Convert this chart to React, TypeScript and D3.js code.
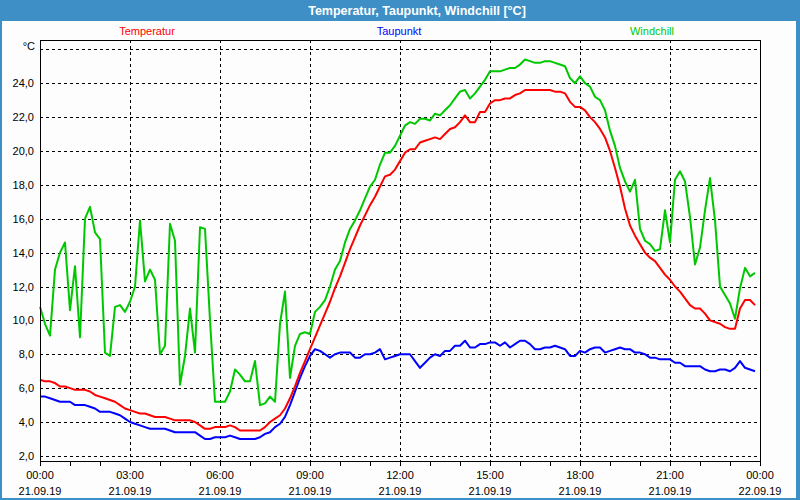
import * as d3 from "d3";

// 10-minute readings, 21.09.19 00:00 .. 23:50
const stepMinutes = 10;

const temperatur = [
  6.5, 6.4, 6.4, 6.3, 6.1, 6.1, 6.0, 5.9, 5.9, 5.9,
  5.8, 5.6, 5.5, 5.4, 5.3, 5.2, 5.0, 4.8, 4.7, 4.6,
  4.5, 4.5, 4.4, 4.3, 4.3, 4.3, 4.2, 4.1, 4.1, 4.1,
  4.1, 4.0, 3.8, 3.6, 3.6, 3.7, 3.7, 3.7, 3.8, 3.7,
  3.5, 3.5, 3.5, 3.5, 3.5, 3.7, 4.0, 4.2, 4.4, 4.8,
  5.4, 6.1, 6.9, 7.6, 8.3, 9.0, 9.7, 10.4, 11.1, 11.9,
  12.6, 13.4, 14.2, 14.9, 15.6, 16.2, 16.8, 17.3, 17.9, 18.5,
  18.6, 18.9, 19.4, 19.9, 20.1, 20.1, 20.5, 20.6, 20.7, 20.8,
  20.7, 21.0, 21.3, 21.4, 21.7, 22.1, 21.7, 21.7, 22.3, 22.3,
  22.8, 23.0, 23.0, 23.1, 23.1, 23.3, 23.4, 23.6, 23.6, 23.6,
  23.6, 23.6, 23.6, 23.5, 23.5, 23.4, 22.9, 22.6, 22.6, 22.4,
  22.0, 21.7, 21.3, 20.8, 20.0, 19.0, 17.9, 16.6, 15.6, 15.0,
  14.5, 14.0, 13.7, 13.5, 13.1, 12.7, 12.4, 12.0, 11.7, 11.3,
  10.9, 10.7, 10.7, 10.4, 10.0, 9.9, 9.8, 9.6, 9.5, 9.5,
  10.7, 11.2, 11.2, 10.9,
];

const taupunkt = [
  5.5, 5.5, 5.4, 5.3, 5.2, 5.2, 5.2, 5.0, 5.0, 5.0,
  4.9, 4.8, 4.6, 4.6, 4.6, 4.5, 4.4, 4.2, 4.0, 3.9,
  3.8, 3.7, 3.6, 3.6, 3.6, 3.6, 3.5, 3.4, 3.4, 3.4,
  3.4, 3.4, 3.2, 3.0, 3.0, 3.1, 3.1, 3.1, 3.2, 3.1,
  3.0, 3.0, 3.0, 3.0, 3.1, 3.3, 3.4, 3.7, 3.9, 4.3,
  5.0, 5.8, 6.6, 7.3, 7.9, 8.3, 8.2, 8.0, 7.8, 8.0,
  8.1, 8.1, 8.1, 7.8, 7.8, 8.0, 8.0, 8.1, 8.3, 7.7,
  7.8, 7.9, 8.0, 8.0, 8.0, 7.6, 7.2, 7.5, 7.8, 8.0,
  7.9, 8.2, 8.2, 8.5, 8.5, 8.8, 8.4, 8.4, 8.6, 8.6,
  8.7, 8.7, 8.5, 8.7, 8.4, 8.6, 8.8, 8.8, 8.6, 8.3,
  8.3, 8.4, 8.4, 8.5, 8.4, 8.3, 7.9, 7.9, 8.2, 8.1,
  8.3, 8.4, 8.4, 8.1, 8.2, 8.3, 8.4, 8.3, 8.3, 8.1,
  8.1, 8.0, 7.8, 7.8, 7.7, 7.7, 7.7, 7.5, 7.5, 7.3,
  7.3, 7.3, 7.3, 7.1, 7.0, 7.0, 7.1, 7.1, 7.0, 7.2,
  7.6, 7.2, 7.1, 7.0,
];

const windchill = [
  10.8, 9.8, 9.1, 13.0, 14.0, 14.6, 10.6, 13.2, 9.0, 16.0,
  16.7, 15.2, 14.8, 8.1, 7.9, 10.8, 10.9, 10.5, 11.1, 12.0,
  15.9, 12.3, 13.0, 12.4, 8.0, 8.5, 15.7, 14.7, 6.2, 7.9,
  10.7, 8.1, 15.5, 15.4, 10.0, 5.2, 5.2, 5.2, 5.8, 7.1,
  6.8, 6.4, 6.4, 7.6, 5.0, 5.1, 5.5, 5.2, 9.8, 11.7,
  6.6, 8.5, 9.2, 9.3, 9.2, 10.5, 10.8, 11.2, 12.0, 13.0,
  13.5, 14.6, 15.4, 15.9, 16.5, 17.2, 17.9, 18.3, 19.2, 19.9,
  19.9, 20.3, 20.9, 21.5, 21.7, 21.6, 21.9, 21.9, 21.8, 22.2,
  22.1, 22.4, 22.7, 23.1, 23.5, 23.6, 23.1, 23.4, 23.8, 24.2,
  24.7, 24.7, 24.7, 24.8, 24.9, 24.9, 25.1, 25.4, 25.3, 25.2,
  25.2, 25.3, 25.3, 25.2, 25.1, 25.0, 24.3, 24.0, 24.4, 24.0,
  23.8, 23.2, 23.0, 22.4, 21.2, 20.3, 19.0, 18.2, 17.6, 18.3,
  15.4, 14.7, 14.5, 14.1, 14.2, 16.5, 14.6, 18.3, 18.8, 18.2,
  16.1, 13.3, 14.3, 16.5, 18.4, 15.9, 12.0, 11.5, 11.0, 10.1,
  11.9, 13.1, 12.6, 12.8,
];

const yTicks = [2, 4, 6, 8, 10, 12, 14, 16, 18, 20, 22, 24];
const yUnitTick = 26;
const xTickHours = [0, 3, 6, 9, 12, 15, 18, 21, 24];
const xTickTimes = ["00:00", "03:00", "06:00", "09:00", "12:00", "15:00", "18:00", "21:00", "00:00"];
const xTickDates = ["21.09.19", "21.09.19", "21.09.19", "21.09.19", "21.09.19", "21.09.19", "21.09.19", "21.09.19", "22.09.19"];

const seriesNames = ["Temperatur", "Taupunkt", "Windchill"];
const seriesColors = ["#ff0000", "#0000ff", "#00c800"];
const legendX = [147, 399, 652];

const title = "Temperatur, Taupunkt, Windchill [°C]";

export default function App() {
  const W = 800;
  const H = 500;
  const plot = { left: 40, top: 40, right: 760, bottom: 461 };
  const font = "'Liberation Sans', Arial, sans-serif";

  const x = d3.scaleLinear().domain([0, 24]).range([plot.left, plot.right]);
  const y = d3.scaleLinear().domain([1.7, 26.55]).range([plot.bottom, plot.top]);
  const snap = (v: number) => Math.round(v) + 0.5;

  const line = d3
    .line<number>()
    .x((_, i) => x((i * stepMinutes) / 60))
    .y((d) => y(d));

  const series = [windchill, taupunkt, temperatur];
  const seriesColorFor = [seriesColors[2], seriesColors[1], seriesColors[0]];

  return (
    <svg
      width={W}
      height={H}
      style={{ position: "absolute", left: 0, top: 0, fontFamily: font }}
    >
      {/* window frame + title bar */}
      <rect x={0} y={0} width={W} height={H} fill="#3d8fc5" />
      <rect x={2} y={21} width={W - 6} height={H - 23} fill="#fcfdfc" />
      <text x={417} y={15} textAnchor="middle" fill="#fff" fontSize={12.5} fontWeight="bold">
        {title}
      </text>

      {/* legend */}
      {seriesNames.map((n, i) => (
        <text key={n} x={legendX[i]} y={35} textAnchor="middle" fill={seriesColors[i]} fontSize={11}>
          {n}
        </text>
      ))}

      {/* grid */}
      <g stroke="#000" strokeWidth={1} strokeDasharray="3,3" shapeRendering="crispEdges">
        {[...yTicks, yUnitTick].map((v) => (
          <line key={"h" + v} x1={plot.left} x2={plot.right} y1={snap(y(v))} y2={snap(y(v))} />
        ))}
        {xTickHours.slice(1, -1).map((h) => (
          <line key={"v" + h} x1={snap(x(h))} x2={snap(x(h))} y1={plot.top} y2={plot.bottom} />
        ))}
      </g>

      {/* series */}
      {series.map((s, i) => (
        <path
          key={i}
          d={line(s) || ""}
          fill="none"
          stroke={seriesColorFor[i]}
          strokeWidth={2}
          strokeLinejoin="round"
        />
      ))}

      {/* frame */}
      <rect
        x={plot.left + 0.5}
        y={plot.top + 0.5}
        width={plot.right - plot.left}
        height={plot.bottom - plot.top}
        fill="none"
        stroke="#000"
        strokeWidth={1}
        shapeRendering="crispEdges"
      />

      {/* x ticks, hourly */}
      <g stroke="#000" shapeRendering="crispEdges">
        {x.ticks(24).map((h) => (
          <line key={"t" + h} x1={snap(x(h))} x2={snap(x(h))} y1={plot.bottom} y2={plot.bottom + 5} />
        ))}
      </g>

      {/* y labels */}
      <g fontSize={11} fill="#000" textAnchor="end">
        {yTicks.map((v) => (
          <text key={"yl" + v} x={34} y={y(v) + 4}>
            {v.toFixed(1).replace(".", ",")}
          </text>
        ))}
        <text x={35} y={y(yUnitTick) + 1}>
          °C
        </text>
      </g>

      {/* x labels */}
      <g fontSize={11} fill="#000" textAnchor="middle">
        {xTickHours.map((h, i) => (
          <g key={"xl" + i}>
            <text x={x(h)} y={479}>
              {xTickTimes[i]}
            </text>
            <text x={x(h)} y={495}>
              {xTickDates[i]}
            </text>
          </g>
        ))}
      </g>
    </svg>
  );
}
